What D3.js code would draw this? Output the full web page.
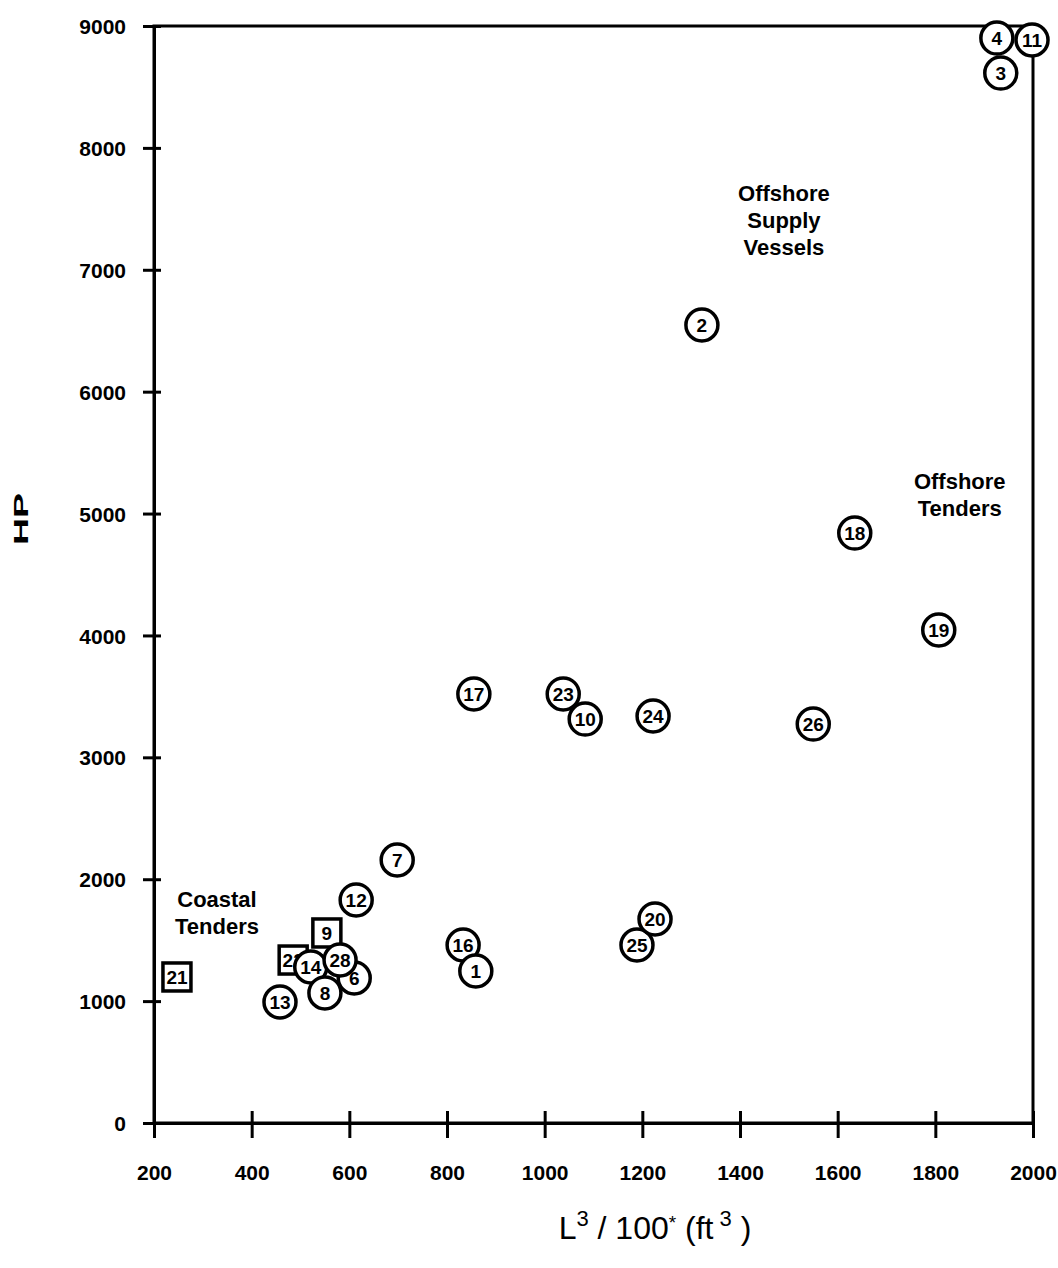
<!DOCTYPE html>
<html>
<head>
<meta charset="utf-8">
<script src="https://cdn.jsdelivr.net/npm/d3@7"></script>
<style>
  html, body { margin: 0; padding: 0; background: #fff; }
  svg { display: block; }
  text { font-family: "Liberation Sans", Arial, Helvetica, sans-serif; fill: #000; }
</style>
</head>
<body>
<svg id="chart" width="1058" height="1268"></svg>
<script>
// ---- data ----
const vesselIds = ["22","9","21","13","6","14","8","28","12","7","16","1","17","23","10","24","25","20","2","26","18","19","11","4","3"];
const xValues   = [ 485, 554, 247, 458, 610, 521, 550, 581, 614, 698, 833, 859, 855,1038,1083,1222,1189,1226,1322,1550,1635,1807,1998,1926,1934];
const hpValues  = [1337,1559,1198, 993,1190,1280,1067,1337,1830,2158,1460,1247,3520,3520,3314,3339,1460,1674,6547,3273,4840,4045,8885,8901,8614];
const shapes    = ["square","square","square","circle","circle","circle","circle","circle","circle","circle","circle","circle","circle","circle","circle","circle","circle","circle","circle","circle","circle","circle","circle","circle","circle"];
const xTicks = [200,400,600,800,1000,1200,1400,1600,1800,2000];
const yTicks = [0,1000,2000,3000,4000,5000,6000,7000,8000,9000];
const groupLabels = [
  {lines:["Offshore","Supply","Vessels"], x:1490, y:7564},
  {lines:["Offshore","Tenders"], x:1850, y:5201},
  {lines:["Coastal","Tenders"], x:329, y:1772}
];

// ---- layout ----
const svg = d3.select("#chart");
const mLeft = 154, mRight = 1033, mTop = 26, mBottom = 1123;
const x = d3.scaleLinear().domain([200,2000]).range([mLeft,mRight]);
const y = d3.scaleLinear().domain([0,9000]).range([mBottom,mTop]);

// frame
svg.append("rect").attr("x",mLeft).attr("y",mTop)
  .attr("width",mRight-mLeft).attr("height",mBottom-mTop)
  .attr("fill","none").attr("stroke","#000").attr("stroke-width",3);

// axes
const xAxis = svg.append("g").attr("transform",`translate(0,${mBottom})`)
  .call(d3.axisBottom(x).tickValues(xTicks).tickSizeInner(15).tickSizeOuter(0).tickFormat(d3.format("d")));
const yAxis = svg.append("g").attr("transform",`translate(${mLeft},0)`)
  .call(d3.axisLeft(y).tickValues(yTicks).tickSizeInner(11).tickSizeOuter(0).tickFormat(d3.format("d")));
[xAxis,yAxis].forEach(g=>{
  g.select(".domain").attr("stroke","#000").attr("stroke-width",3);
  g.selectAll(".tick line").attr("stroke","#000").attr("stroke-width",3);
  g.selectAll(".tick text").attr("font-size",21).attr("font-weight","bold")
    .attr("font-family","'Liberation Sans', Arial, sans-serif").attr("fill","#000");
});
// ticks cross the axis line slightly
xAxis.selectAll(".tick line").attr("y1",-12);
yAxis.selectAll(".tick line").attr("x1",7);
xAxis.selectAll(".tick text").attr("dy","0").attr("y",57);
yAxis.selectAll(".tick text").attr("x",-28).attr("dy","0.36em");

// axis titles
svg.append("text").attr("transform","translate(28,519) rotate(-90)")
  .attr("text-anchor","middle").attr("font-size",21).attr("font-weight","bold")
  .attr("textLength",52).attr("lengthAdjust","spacingAndGlyphs").text("HP");
const xt = svg.append("text").attr("x",655).attr("y",1239).attr("text-anchor","middle")
  .attr("font-size",32);
xt.append("tspan").text("L");
xt.append("tspan").attr("dy",-13).attr("font-size",22).text("3");
xt.append("tspan").attr("dy",13).text(" / 100");
xt.append("tspan").attr("dy",-10).attr("font-size",19).text("*");
xt.append("tspan").attr("dy",10).text(" (ft");
xt.append("tspan").attr("dy",-13).attr("font-size",22).text(" 3");
xt.append("tspan").attr("dy",13).text(" )");

// group labels
groupLabels.forEach(gl=>{
  const t = svg.append("text").attr("text-anchor","middle").attr("font-size",22).attr("font-weight","bold");
  gl.lines.forEach((ln,i)=>{
    t.append("tspan").attr("x",x(gl.x)).attr("y",y(gl.y)+i*27).text(ln);
  });
});

// points
const pts = vesselIds.map((id,i)=>({id, xv:xValues[i], hv:hpValues[i], shape:shapes[i]}));
const r = 16;
const pg = svg.append("g");
pts.forEach(p=>{
  const cx = x(p.xv), cy = y(p.hv);
  const node = pg.append("g");
  if (p.shape === "circle") {
    node.append("circle").attr("cx",cx).attr("cy",cy).attr("r",r)
      .attr("fill","#fff").attr("stroke","#000").attr("stroke-width",3.5);
  } else {
    node.append("rect").attr("x",cx-14).attr("y",cy-14).attr("width",28).attr("height",28)
      .attr("fill","#fff").attr("stroke","#000").attr("stroke-width",3.5);
  }
  node.append("text").attr("x",cx).attr("y",cy).attr("dy","0.36em")
    .attr("text-anchor","middle").attr("font-size",19).attr("font-weight","bold")
    .text(p.id);
});
</script>
</body>
</html>
